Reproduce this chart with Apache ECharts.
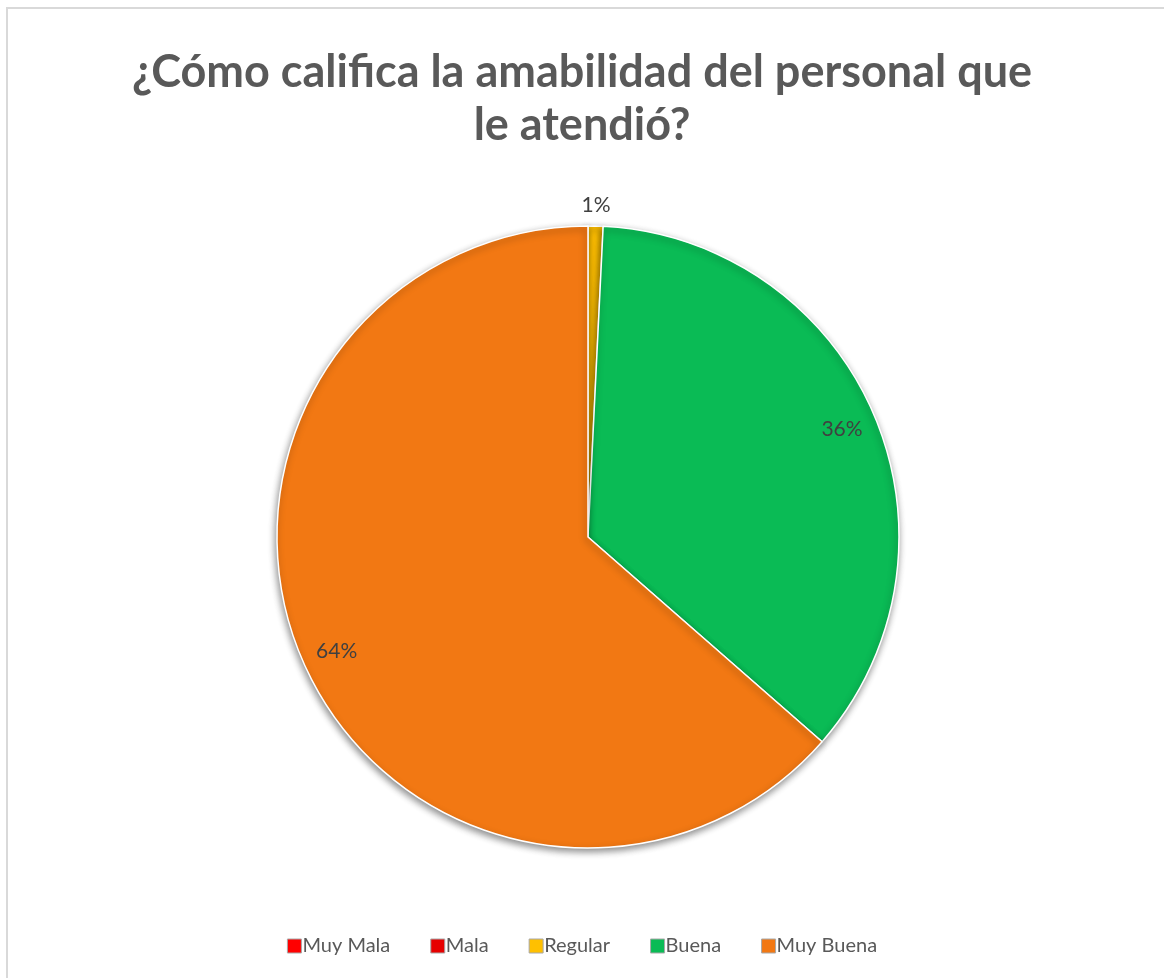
<!DOCTYPE html>
<html>
<head>
<meta charset="utf-8">
<script src="https://cdn.jsdelivr.net/npm/echarts@6/dist/echarts.min.js"></script>
<style>
  html, body { margin: 0; padding: 0; background: #ffffff; }
  #chart { position: absolute; left: 0; top: 0; width: 1164px; height: 978px; }
  #frame { position: absolute; left: 6px; top: 7px; width: 1200px; height: 1000px;
           border-left: 2px solid #d9d9d9; border-top: 2px solid #d9d9d9; pointer-events: none; }
</style>
</head>
<body>
<div id="chart"></div>
<div id="frame"></div>
<script>
// Survey answers: rating of staff friendliness
const categories = ['Muy Mala', 'Mala', 'Regular', 'Buena', 'Muy Buena'];
const counts = [0, 0, 1, 46, 82];
const sliceColors = ['#FF0000', '#E60000', '#FFC000', '#0ABB55', '#F27813'];
const titleText = '¿Cómo califica la amabilidad del personal que\nle atendió?';

const FONT = 'Lato, "Open Sans", sans-serif';
const CENTER = [588, 537];
const R = 311;

const total = counts.reduce((a, b) => a + b, 0);
const pctLabel = p => Math.round(p.percent) + '%';

const mainData = categories.map((name, i) => ({
  name, value: counts[i], itemStyle: { color: sliceColors[i] }
}));

// Labels for the large slices sit near the rim (ring overlay, label at ring middle)
const innerLabelData = categories.map((name, i) => ({
  name, value: counts[i],
  label: { show: counts[i] / total > 0.05 }
}));
// Label for the thin slice sits just outside the pie
const outerLabelData = categories.map((name, i) => {
  const share = counts[i] / total;
  return { name, value: counts[i], label: { show: share > 0 && share <= 0.05 } };
});

const overlayBase = {
  type: 'pie',
  center: CENTER,
  startAngle: 90,
  clockwise: true,
  silent: true,
  percentPrecision: 4,
  legendHoverLink: false,
  itemStyle: { color: 'rgba(0,0,0,0)', borderWidth: 0 },
  emphasis: { disabled: true },
  labelLine: { show: false },
  label: {
    position: 'inside',
    formatter: pctLabel,
    color: '#404040',
    fontSize: 21,
    fontFamily: FONT
  }
};

const chart = echarts.init(document.getElementById('chart'), null, { renderer: 'canvas' });
chart.setOption({
  backgroundColor: '#ffffff',
  animation: false,
  title: {
    text: titleText,
    left: 'center',
    top: 41,
    textStyle: {
      fontFamily: FONT,
      fontSize: 45,
      fontWeight: 'bold',
      color: '#595959',
      lineHeight: 53
    }
  },
  legend: {
    data: categories,
    bottom: 17,
    left: 'center',
    icon: 'rect',
    itemWidth: 14,
    itemHeight: 14,
    itemGap: 40,
    selectedMode: false,
    itemStyle: { borderColor: '#a8a8a8', borderWidth: 1 },
    textStyle: { fontFamily: FONT, fontSize: 20, color: '#595959', padding: [0, 0, 0, -4] }
  },
  series: [
    {
      name: 'main',
      type: 'pie',
      center: CENTER,
      radius: [0, R],
      startAngle: 90,
      clockwise: true,
      avoidLabelOverlap: false,
      label: { show: false },
      labelLine: { show: false },
      emphasis: { disabled: true },
      itemStyle: {
        borderColor: '#ffffff',
        borderWidth: 1.5,
        shadowBlur: 7,
        shadowOffsetX: -1,
        shadowOffsetY: 3,
        shadowColor: 'rgba(0,0,0,0.45)'
      },
      data: mainData
    },
    Object.assign({}, overlayBase, { name: 'rimLabels', radius: [246, 300], data: innerLabelData }),
    Object.assign({}, overlayBase, { name: 'outerLabels', radius: [310, 348], data: outerLabelData })
  ]
});
</script>
</body>
</html>
